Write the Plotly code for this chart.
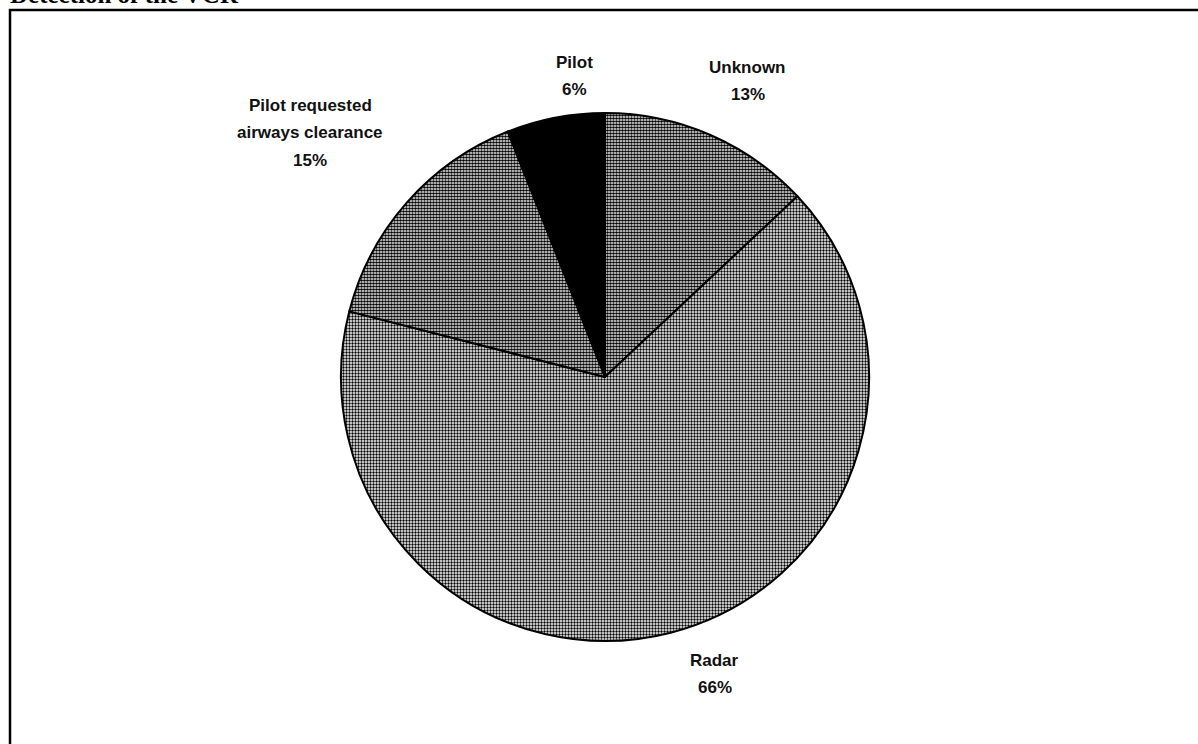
import plotly.graph_objects as go

# Data
labels = ["Unknown", "Radar", "Pilot requested<br>airways clearance", "Pilot"]
values = [13, 66, 15, 6]
pct_text = ["13%", "66%", "15%", "6%"]
pattern_solidity = [0.64, 0.48, 0.62, 0]

W, H = 1198, 744
cx, cy, r = 605, 377, 264  # pixel geometry of pie (layout only)

fig = go.Figure()
fig.add_trace(go.Pie(
    labels=labels,
    values=values,
    sort=False,
    direction="clockwise",
    rotation=0,
    textinfo="none",
    hoverinfo="label+percent",
    showlegend=False,
    marker=dict(
        colors=["white", "white", "white", "black"],
        line=dict(color="black", width=2),
        pattern=dict(
            shape=[".", ".", ".", ""],
            fgcolor=["#000000", "#000000", "#000000", "#000000"],
            bgcolor=["#ffffff", "#ffffff", "#ffffff", "#000000"],
            size=[3, 3, 3, 3],
            solidity=pattern_solidity,
            fillmode="replace",
        ),
    ),
    domain=dict(x=[(cx - r) / W, (cx + r) / W],
                y=[(H - cy - r) / H, (H - cy + r) / H]),
))

# label block anchors (pixels, layout only): center x, y of first line
label_pos = [(748, 67), (715, 660), (310, 106), (574, 62)]
line_gap = 27
for lab, pt, (px, py) in zip(labels, pct_text, label_pos):
    lines = lab.split("<br>") + [pt]
    for i, ln in enumerate(lines):
        fig.add_annotation(
            x=px / W, y=1 - (py + i * line_gap) / H, xref="paper", yref="paper",
            text=f"<b>{ln}</b>", showarrow=False,
            font=dict(family="Liberation Sans, Arial, sans-serif", size=17, color="#111111"),
            align="center", xanchor="center", yanchor="middle",
        )

# cut-off title at the top
fig.add_annotation(
    x=8 / W, y=1 - 10 / H, xref="paper", yref="paper",
    text="<b>Detection of the VCR</b>", showarrow=False,
    font=dict(family="Liberation Serif, Times New Roman, serif", size=25, color="black"),
    xanchor="left", yanchor="bottom",
)

# frame box
fig.add_shape(type="rect", xref="paper", yref="paper",
              x0=10 / W, x1=1.02, y0=-0.02, y1=1 - 10 / H,
              line=dict(color="black", width=2.5), fillcolor="rgba(0,0,0,0)")

fig.update_layout(
    width=W, height=H,
    margin=dict(l=0, r=0, t=0, b=0),
    paper_bgcolor="white", plot_bgcolor="white",
)

fig.write_html("out.html")
